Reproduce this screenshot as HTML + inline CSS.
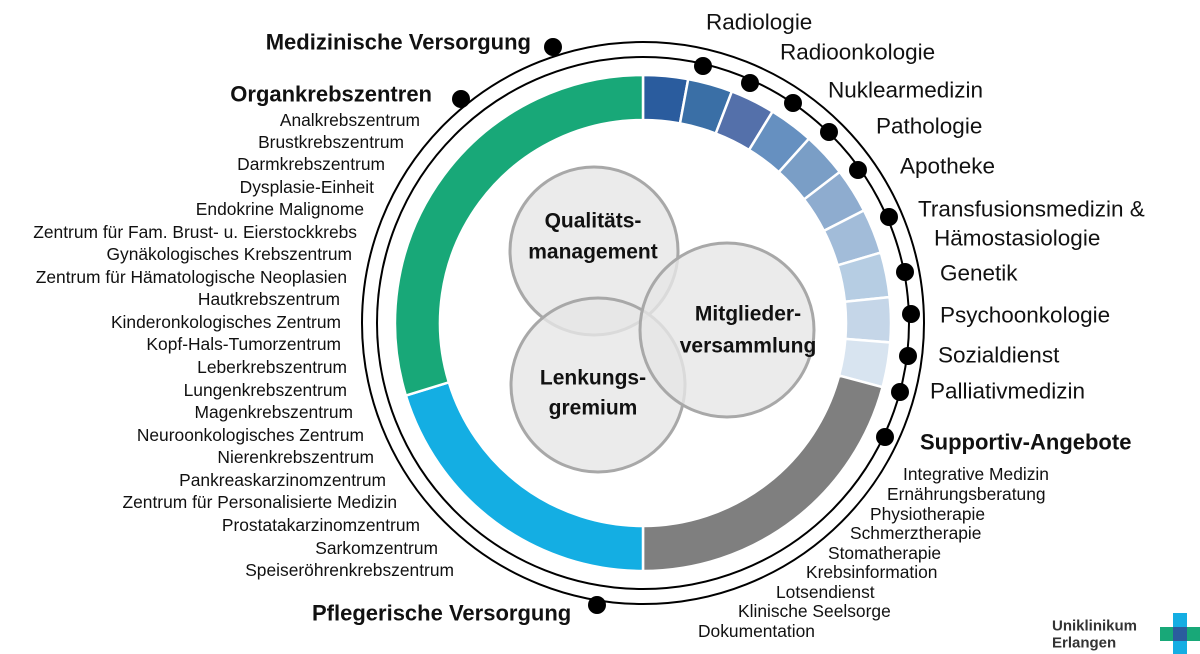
<!DOCTYPE html>
<html><head><meta charset="utf-8"><style>
html,body{margin:0;padding:0;background:#fff}
svg{display:block}
text{font-family:"Liberation Sans",sans-serif;dominant-baseline:central;fill:#111}
.b{font-weight:bold;font-size:22px}
.l{font-size:17.4px}
.r{font-size:22.5px}
.s{font-size:17.4px}
.c{font-weight:bold;font-size:21px;text-anchor:middle}
</style></head><body>
<svg width="1200" height="654" viewBox="0 0 1200 654" xmlns="http://www.w3.org/2000/svg">
<circle cx="643" cy="323" r="281" fill="none" stroke="#000" stroke-width="2"/>
<circle cx="643" cy="323" r="266" fill="none" stroke="#000" stroke-width="2"/>
<g id="ring"></g>
<g fill="#e6e6e6" fill-opacity="0.8" stroke="#a8a8a8" stroke-width="3">
<circle cx="594" cy="251" r="84"/>
<circle cx="598" cy="385" r="87"/>
<circle cx="727" cy="330" r="87"/>
</g>
<text class="c" x="593" y="221">Qualitäts-</text>
<text class="c" x="593" y="252">management</text>
<text class="c" x="593" y="378">Lenkungs-</text>
<text class="c" x="593" y="408">gremium</text>
<text class="c" x="748" y="314">Mitglieder-</text>
<text class="c" x="748" y="346">versammlung</text>
<g fill="#000">
<circle cx="553" cy="47" r="9"/><circle cx="461" cy="99" r="9"/>
<circle cx="703" cy="66" r="9"/><circle cx="750" cy="83" r="9"/><circle cx="793" cy="103" r="9"/>
<circle cx="829" cy="132" r="9"/><circle cx="858" cy="170" r="9"/><circle cx="889" cy="217" r="9"/>
<circle cx="905" cy="272" r="9"/><circle cx="911" cy="314" r="9"/><circle cx="908" cy="356" r="9"/>
<circle cx="900" cy="392" r="9"/><circle cx="885" cy="437" r="9"/><circle cx="597" cy="605" r="9"/>
</g>
<text class="b" x="531" y="42" text-anchor="end">Medizinische Versorgung</text>
<text class="b" x="432" y="94" text-anchor="end">Organkrebszentren</text>
<text class="b" x="312" y="613">Pflegerische Versorgung</text>
<text class="b" x="920" y="442">Supportiv-Angebote</text>
<g text-anchor="end">
<text class="l" x="420" y="120">Analkrebszentrum</text>
<text class="l" x="404" y="142">Brustkrebszentrum</text>
<text class="l" x="385" y="164">Darmkrebszentrum</text>
<text class="l" x="374" y="187">Dysplasie-Einheit</text>
<text class="l" x="364" y="209">Endokrine Malignome</text>
<text class="l" x="357" y="232">Zentrum für Fam. Brust- u. Eierstockkrebs</text>
<text class="l" x="352" y="254">Gynäkologisches Krebszentrum</text>
<text class="l" x="347" y="277">Zentrum für Hämatologische Neoplasien</text>
<text class="l" x="340" y="299">Hautkrebszentrum</text>
<text class="l" x="341" y="322">Kinderonkologisches Zentrum</text>
<text class="l" x="341" y="344">Kopf-Hals-Tumorzentrum</text>
<text class="l" x="347" y="367">Leberkrebszentrum</text>
<text class="l" x="347" y="390">Lungenkrebszentrum</text>
<text class="l" x="353" y="412">Magenkrebszentrum</text>
<text class="l" x="364" y="435">Neuroonkologisches Zentrum</text>
<text class="l" x="374" y="457">Nierenkrebszentrum</text>
<text class="l" x="386" y="480">Pankreaskarzinomzentrum</text>
<text class="l" x="397" y="502">Zentrum für Personalisierte Medizin</text>
<text class="l" x="420" y="525">Prostatakarzinomzentrum</text>
<text class="l" x="438" y="548">Sarkomzentrum</text>
<text class="l" x="454" y="570">Speiseröhrenkrebszentrum</text>
</g>
<text class="r" x="706" y="22">Radiologie</text>
<text class="r" x="780" y="52">Radioonkologie</text>
<text class="r" x="828" y="90">Nuklearmedizin</text>
<text class="r" x="876" y="126">Pathologie</text>
<text class="r" x="900" y="166">Apotheke</text>
<text class="r" x="918" y="209">Transfusionsmedizin &amp;</text>
<text class="r" x="934" y="238">Hämostasiologie</text>
<text class="r" x="940" y="273">Genetik</text>
<text class="r" x="940" y="315">Psychoonkologie</text>
<text class="r" x="938" y="355">Sozialdienst</text>
<text class="r" x="930" y="391">Palliativmedizin</text>
<text class="s" x="903" y="474">Integrative Medizin</text>
<text class="s" x="887" y="494">Ernährungsberatung</text>
<text class="s" x="870" y="514">Physiotherapie</text>
<text class="s" x="850" y="533">Schmerztherapie</text>
<text class="s" x="828" y="553">Stomatherapie</text>
<text class="s" x="806" y="572">Krebsinformation</text>
<text class="s" x="776" y="592">Lotsendienst</text>
<text class="s" x="738" y="611">Klinische Seelsorge</text>
<text class="s" x="698" y="631">Dokumentation</text>
<text x="1052" y="626" style="font-weight:bold;font-size:15px;fill:#333">Uniklinikum</text>
<text x="1052" y="643" style="font-weight:bold;font-size:15px;fill:#333">Erlangen</text>
<rect x="1173" y="613" width="14" height="41" fill="#14aee3"/>
<rect x="1160" y="627" width="40" height="14" fill="#18a878"/>
<rect x="1173" y="627" width="14" height="14" fill="#2a5c9e"/>
<script>
(function(){
var g=document.getElementById('ring'),cx=643,cy=323,R=248,r=203;
function p(a,rad){var t=(a-90)*Math.PI/180;return [cx+rad*Math.cos(t),cy+rad*Math.sin(t)];}
function seg(a0,a1,col){var l=(a1-a0)>180?1:0;var A=p(a0,R),B=p(a1,R),C=p(a1,r),D=p(a0,r);
var e=document.createElementNS('http://www.w3.org/2000/svg','path');
e.setAttribute('d','M'+A+' A'+R+' '+R+' 0 '+l+' 1 '+B+' L'+C+' A'+r+' '+r+' 0 '+l+' 0 '+D+'Z');
e.setAttribute('fill',col);e.setAttribute('stroke','#fff');e.setAttribute('stroke-width','2.5');g.appendChild(e);}
var cols=['#2a5c9e','#3a6fa6','#5470aa','#6690c0','#7a9ec6','#8eaccf','#a2bcd9','#b6cde3','#c5d6e8','#d8e4f0'];
var st=105/10;for(var i=0;i<10;i++)seg(i*st,(i+1)*st,cols[i]);
seg(105,180,'#7f7f7f');seg(180,253,'#14aee3');seg(253,360,'#18a878');
})();
</script>
</svg>
</body></html>
